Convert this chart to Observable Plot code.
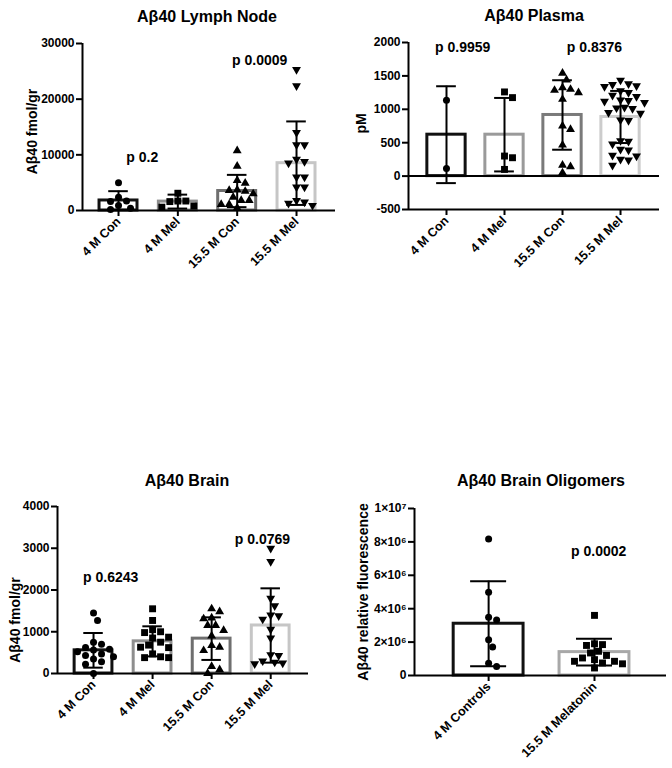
<!DOCTYPE html>
<html><head><meta charset="utf-8">
<script src="https://cdn.jsdelivr.net/npm/d3@7"></script>
<script src="https://cdn.jsdelivr.net/npm/@observablehq/plot@0.6"></script>
<style>
body{margin:0;background:#fff;}
#root{position:relative;width:672px;height:768px;overflow:hidden;font-family:"Liberation Sans",Arial,Helvetica,sans-serif;}
#root svg{position:absolute;background:transparent;}
.title{position:absolute;font-weight:bold;font-size:16px;line-height:16px;text-align:center;width:300px;white-space:nowrap;color:#000;}
</style></head><body><div id="root"></div>
<script>
// ---------- data ----------
const groups4 = ["4 M Con", "4 M Mel", "15.5 M Con", "15.5 M Mel"];
const groups2 = ["4 M Controls", "15.5 M Melatonin"];

// Lymph node (fmol/gr)
const lymphMeans = [1800, 1600, 3500, 8500];
const lymphSD = [1670, 1250, 2900, 7500];
const lymph4Con = [5000, 2400, 1700, 1600, 900, 400, 200];
const lymph4Mel = [3100, 1700, 1700, 1600, 800, 600];
const lymph15Con = [10750, 7950, 5400, 4900, 3700, 3600, 3450, 3000, 2400, 1800, 1800, 1100, 1100, 480];
const lymph15Mel = [25300, 22400, 14000, 11800, 11800, 9200, 8800, 8500, 6000, 6000, 4200, 4200, 1800, 1500, 1300, 900];
const lymphP = [{x: 0.4, y: 9500, t: "p 0.2"}, {x: 2.38, y: 27000, t: "p 0.0009"}];

// Plasma (pM)
const plasmaMeans = [620, 620, 915, 885];
const plasmaSD = [725, 550, 520, 390];
const plasma4Con = [1135, 115];
const plasma4Mel = [1260, 1175, 300, 275, 100];
const plasma15Con = [1540, 1440, 1325, 1300, 1285, 1250, 1150, 750, 700, 465, 165, 140, 50];
const plasma15Mel = [1435, 1380, 1370, 1350, 1340, 1275, 1250, 1210, 1190, 1140, 1130, 1120, 1100, 1030, 1020, 1010, 950, 940, 840, 830, 530, 520, 480, 400, 390, 310, 300, 250, 240, 160];
const plasmaP = [{x: 0.28, y: 1930, t: "p 0.9959"}, {x: 2.55, y: 1930, t: "p 0.8376"}];

// Brain (fmol/gr)
const brainMeans = [555, 770, 835, 1150];
const brainSD = [415, 360, 510, 890];
const brain4Con = [1450, 1270, 750, 700, 620, 580, 560, 520, 470, 430, 400, 350, 280, 220, 0];
const brain4Mel = [1550, 1270, 1050, 1000, 980, 870, 850, 750, 680, 630, 620, 470, 400, 380, 380];
const brain15Con = [1550, 1480, 1330, 1310, 1150, 1150, 1030, 900, 670, 630, 550, 170, 90, 0];
const brain15Mel = [3000, 2680, 1800, 1620, 1400, 1380, 1300, 1060, 850, 450, 430, 300, 270, 250, 230];
const brainP = [{x: 0.29, y: 2300, t: "p 0.6243"}, {x: 2.86, y: 3210, t: "p 0.0769"}];

// Brain oligomers (relative fluorescence)
const oligoMeans = [3.1e6, 1.4e6];
const oligoSD = [2.55e6, 0.8e6];
const oligo4Con = [8.18e6, 4.99e6, 3.49e6, 3.33e6, 2.14e6, 1.70e6, 0.74e6, 0.54e6];
const oligo15Mel = [3.6e6, 1.85e6, 1.9e6, 1.8e6, 1.35e6, 1.45e6, 1.2e6, 0.95e6, 0.85e6, 0.75e6, 0.85e6, 1.05e6, 0.45e6, 0.7e6];
const oligoP = [{x: 1.04, y: 7.4e6, t: "p 0.0002"}];

// ---------- rendering ----------
const triangleDown = {
  draw(ctx, size) {
    const y = -Math.sqrt(size / (Math.sqrt(3) * 3));
    ctx.moveTo(0, -y * 2);
    ctx.lineTo(-Math.sqrt(3) * y, y);
    ctx.lineTo(Math.sqrt(3) * y, y);
    ctx.closePath();
  }
};
const SYM = {circle: ["circle", 3.5], square: ["square", 3.9], up: ["triangle", 3.3], down: [triangleDown, 3.3]};

function dodge(vals, yPx, xUnitPx, diam) {
  const order = vals.map((v, i) => i).sort((a, b) => vals[b] - vals[a]);
  const placed = [];
  const off = new Array(vals.length).fill(0);
  for (const i of order) {
    const py = vals[i] * yPx;
    for (let k = 0; k < 60; k++) {
      const px = k === 0 ? 0 : (k % 2 ? 1 : -1) * Math.ceil(k / 2) * diam / 2;
      if (placed.every(([qx, qy]) => Math.hypot(qx - px, qy - py) >= diam * 0.95)) {
        placed.push([px, py]); off[i] = px / xUnitPx; break;
      }
    }
  }
  return off;
}

const root = document.getElementById("root");

function panel(c) {
  const pw = c.width - c.mL - c.mR, ph = c.height - c.mT - c.mB;
  const xUnit = pw / (c.xDomain[1] - c.xDomain[0]);
  const yPx = ph / (c.yDomain[1] - c.yDomain[0]);
  const bars = c.means.map((m, i) => ({i, mean: m, lo: m - c.sds[i], hi: m + c.sds[i], color: c.colors[i]}));
  const dotMarks = c.points.map((vals, i) => {
    const off = dodge(vals, yPx, xUnit, 8);
    const data = vals.map((v, j) => ({x: i + off[j], y: v}));
    const [symbol, r] = SYM[c.symbols[i]];
    return Plot.dot(data, {x: "x", y: "y", symbol, r, fill: "#000", stroke: "none"});
  });
  const svg = Plot.plot({
    width: c.width, height: c.height,
    marginLeft: c.mL, marginRight: c.mR, marginTop: c.mT, marginBottom: c.mB,
    x: {domain: c.xDomain, axis: null},
    y: {domain: c.yDomain, axis: null},
    color: {type: "identity"},
    style: {fontFamily: '"Liberation Sans", Arial, Helvetica, sans-serif', fontSize: "12px", fontWeight: "bold", color: "#000", background: "transparent", overflow: "visible"},
    marks: [
      Plot.rectY(bars, {x1: d => d.i - c.barHalf, x2: d => d.i + c.barHalf, y1: 0, y2: "mean", fill: "white", stroke: "color", strokeWidth: 3}),
      ...dotMarks,
      Plot.ruleX(bars, {x: "i", y1: "lo", y2: "hi", stroke: "#000", strokeWidth: 2}),
      Plot.ruleY(bars, {y: "hi", x1: d => d.i - c.capHalf, x2: d => d.i + c.capHalf, stroke: "#000", strokeWidth: 2}),
      Plot.ruleY(bars, {y: "lo", x1: d => d.i - c.capHalf, x2: d => d.i + c.capHalf, stroke: "#000", strokeWidth: 2}),
      ...(c.zeroRule ? [Plot.ruleY([0], {stroke: "#000", strokeWidth: 2})] : []),
      Plot.ruleX([c.xDomain[0]], {stroke: "#000", strokeWidth: 2}),
      Plot.ruleY([c.yDomain[0]], {stroke: "#000", strokeWidth: 2}),
      Plot.axisY(c.yTicks, {tickSize: 6, tickPadding: 2, strokeWidth: 2, stroke: "#000", fill: "#000", tickFormat: c.yFormat, label: null, fontSize: 12}),
      Plot.axisX(c.names.map((n, i) => i), {tickSize: 6, tickPadding: 3, strokeWidth: 2, stroke: "#000", fill: "#000", tickFormat: i => c.names[i], tickRotate: -45, label: null, fontSize: 12.5}),
      Plot.text(c.pLabels, {x: "x", y: "y", text: "t", fontSize: 14, fontWeight: "bold", fill: "#000"}),
      Plot.text([c.yLabel], {frameAnchor: "left", textAnchor: "middle", lineAnchor: "middle", text: d => d, rotate: -90, dx: c.labDx, dy: c.labDy, fontSize: 14, fontWeight: "bold", fill: "#000"})
    ]
  });
  svg.style.left = c.left + "px";
  svg.style.top = c.top + "px";
  root.appendChild(svg);
  const t = document.createElement("div");
  t.className = "title";
  t.textContent = c.title;
  t.style.left = (c.titleX - 150) + "px";
  t.style.top = (c.titleBase - 13.5) + "px";
  root.appendChild(t);
}

const colors4 = ["#111111", "#8e8e8e", "#6f6f6f", "#c6c6c6"];

panel({
  title: "Aβ40 Lymph Node", titleX: 207, titleBase: 22,
  left: 0, top: 30, width: 336, height: 250, mL: 82, mR: 1, mT: 13, mB: 70,
  xDomain: [-0.607, 3.657], yDomain: [0, 30000], yTicks: [0, 10000, 20000, 30000], yFormat: d => String(d),
  names: groups4, means: lymphMeans, sds: lymphSD, colors: colors4,
  points: [lymph4Con, lymph4Mel, lymph15Con, lymph15Mel], symbols: ["circle", "square", "up", "down"],
  barHalf: 0.32, capHalf: 0.165, pLabels: lymphP,
  yLabel: "Aβ40 fmol/gr", labDx: -50, labDy: 4.5
});

panel({
  title: "Aβ40 Plasma", titleX: 534, titleBase: 21,
  left: 336, top: 30, width: 336, height: 250, mL: 72, mR: 13, mT: 12, mB: 71,
  xDomain: [-0.655, 3.672], yDomain: [-500, 2000], yTicks: [-500, 0, 500, 1000, 1500, 2000], yFormat: d => String(d),
  names: groups4, means: plasmaMeans, sds: plasmaSD, colors: ["#111111", "#9a9a9a", "#7a7a7a", "#cccccc"],
  points: [plasma4Con, plasma4Mel, plasma15Con, plasma15Mel], symbols: ["circle", "square", "up", "down"],
  barHalf: 0.33, capHalf: 0.17, pLabels: plasmaP, zeroRule: true,
  yLabel: "pM", labDx: -47, labDy: -2.5
});

panel({
  title: "Aβ40 Brain", titleX: 187, titleBase: 486,
  left: 0, top: 495, width: 336, height: 268, mL: 57, mR: 28, mT: 11, mB: 90,
  xDomain: [-0.61, 3.64], yDomain: [0, 4000], yTicks: [0, 1000, 2000, 3000, 4000], yFormat: d => String(d),
  names: groups4, means: brainMeans, sds: brainSD, colors: colors4,
  points: [brain4Con, brain4Mel, brain15Con, brain15Mel], symbols: ["circle", "square", "up", "down"],
  barHalf: 0.32, capHalf: 0.165, pLabels: brainP,
  yLabel: "Aβ40 fmol/gr", labDx: -42, labDy: 30
});

panel({
  title: "Aβ40 Brain Oligomers", titleX: 541, titleBase: 486,
  left: 336, top: 495, width: 336, height: 268, mL: 78, mR: 6, mT: 13, mB: 88,
  xDomain: [-0.70, 1.68], yDomain: [0, 1e7], yTicks: [0, 2e6, 4e6, 6e6, 8e6, 1e7],
  yFormat: d => d === 0 ? "0" : d === 1e7 ? "1×10⁷" : (d / 1e6) + "×10⁶",
  names: groups2, means: oligoMeans, sds: oligoSD, colors: ["#111111", "#a8a8a8"],
  points: [oligo4Con, oligo15Mel], symbols: ["circle", "square"],
  barHalf: 0.33, capHalf: 0.17, pLabels: oligoP,
  yLabel: "Aβ40 relative fluorescence", labDx: -51, labDy: 0
});
</script></body></html>
